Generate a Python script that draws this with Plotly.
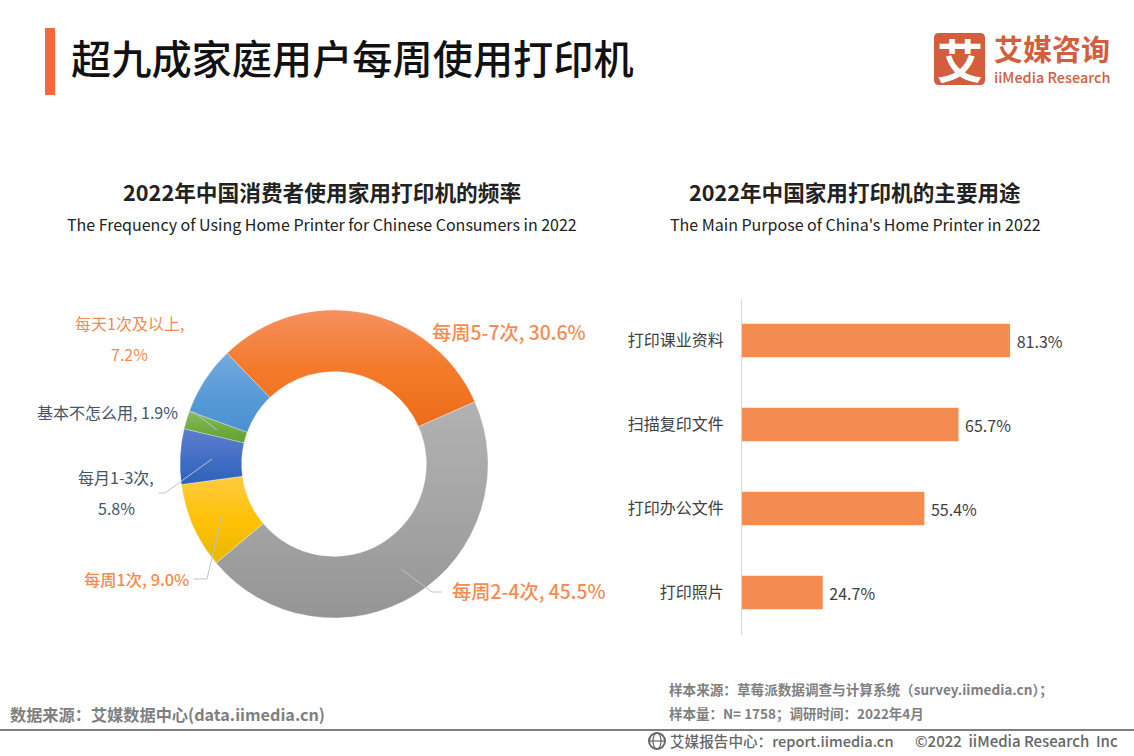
import plotly.graph_objects as go

W, H = 1134, 756
FONT = "Noto Sans CJK SC"
ORANGE = "#F58B50"
DARK = "#44546A"
GREY = "#7F7F7F"

freq_labels = ["每周5-7次", "每周2-4次", "每周1次", "每月1-3次", "基本不怎么用", "每天1次及以上"]
freq_values = [30.6, 45.5, 9.0, 5.8, 1.9, 7.2]
purpose_labels = ["打印课业资料", "扫描复印文件", "打印办公文件", "打印照片"]
purpose_values = [81.3, 65.7, 55.4, 24.7]
slice_colors = ["#F47A2B", "#A6A6A6", "#FFC30F", "#4470C6", "#72AD45", "#5A9BD8"]
gradient_stops = [
    ("#F59060", "#F47A2A", "#EB6C1A"), ("#B2B2B2", "#A5A5A5", "#959595"),
    ("#FFCB40", "#FFC105", "#E8B800"), ("#5F7DCC", "#4470C6", "#2F60BA"),
    ("#8ABD62", "#72AD45", "#62A130"), ("#74AADF", "#5A9BD8", "#4A90D3"),
]


def px(x):
    return x / W


def py(y):
    return 1 - y / H


def pct(v):
    return f"{v:.1f}%"


fig = go.Figure()

cx, cy, r = 334, 464, 154
fig.add_trace(go.Pie(
    labels=freq_labels, values=freq_values, sort=False, direction="clockwise",
    rotation=-44, hole=0.6, textinfo="none", showlegend=False,
    hoverinfo="label+value",
    marker=dict(colors=slice_colors, line=dict(color="rgba(255,255,255,0.6)", width=0.5)),
    domain=dict(x=[px(cx - r), px(cx + r)], y=[py(cy + r), py(cy - r)]),
))

fig.add_trace(go.Bar(
    x=purpose_values, y=purpose_labels, orientation="h",
    marker=dict(color="#F48B50", line=dict(width=0)),
    text=["\u00a0" + pct(v) for v in purpose_values], textposition="outside", cliponaxis=False,
    textfont=dict(family=FONT, size=16, color="#404040"),
    showlegend=False, hoverinfo="y+x",
    xaxis="x", yaxis="y",
))

shapes = []


def rect(x0, y0, x1, y1, color):
    shapes.append(dict(type="rect", xref="paper", yref="paper",
                       x0=px(x0), x1=px(x1), y0=py(y1), y1=py(y0),
                       fillcolor=color, line=dict(width=0), layer="above"))


def poly(points, color="#B7C3D3", width=1):
    d = "M " + " L ".join(f"{px(a):.5f},{py(b):.5f}" for a, b in points)
    shapes.append(dict(type="path", xref="paper", yref="paper", path=d,
                       line=dict(color=color, width=width), layer="above"))


rect(45, 28, 55, 95, "#F4693A")
rect(0, 729, W, 731, GREY)

# logo tile
x0, y0, x1, y1, c = 934, 33, 985, 85, 5
tile = (f"M {px(x0 + c)},{py(y0)} L {px(x1 - c)},{py(y0)} Q {px(x1)},{py(y0)} {px(x1)},{py(y0 + c)} "
        f"L {px(x1)},{py(y1 - c)} Q {px(x1)},{py(y1)} {px(x1 - c)},{py(y1)} L {px(x0 + c)},{py(y1)} "
        f"Q {px(x0)},{py(y1)} {px(x0)},{py(y1 - c)} L {px(x0)},{py(y0 + c)} Q {px(x0)},{py(y0)} {px(x0 + c)},{py(y0)} Z")
shapes.append(dict(type="path", xref="paper", yref="paper", path=tile,
                   fillcolor="#D25E3E", line=dict(width=0), layer="below"))

# leader lines
poly([(401, 569), (432, 592), (442, 592)])
poly([(222, 515), (207, 579), (194, 579)])
poly([(212, 459), (165, 493), (159, 493)])
poly([(217, 430), (194, 412), (190, 412)])

# footer globe
shapes.append(dict(type="circle", xref="paper", yref="paper",
                   x0=px(649), x1=px(665), y0=py(749), y1=py(733),
                   line=dict(color="#666666", width=2), layer="above"))
shapes.append(dict(type="circle", xref="paper", yref="paper",
                   x0=px(653), x1=px(661), y0=py(749), y1=py(733),
                   line=dict(color="#666666", width=1.2), layer="above"))
poly([(649, 741), (665, 741)], "#666666", 1.2)

ann = []


def text(s, x, y, size, color, anchor="left", weight=None):
    f = dict(family=FONT, size=size, color=color)
    if weight:
        f["weight"] = weight
    ann.append(dict(text=s, x=px(x), y=py(y), xref="paper", yref="paper", align=anchor if anchor != "center" else "center",
                    xanchor=anchor, yanchor="middle", showarrow=False, font=f))


text("超九成家庭用户每周使用打印机", 69, 57, 40.2, "#111111", weight=500)
text("2022年中国消费者使用家用打印机的频率", 322, 191, 21.7, "#222222", "center", 700)
text("The Frequency of Using Home Printer for Chinese Consumers in 2022", 322, 224, 16, "#222222", "center")
text("2022年中国家用打印机的主要用途", 855, 191, 21.6, "#222222", "center", 700)
text("The Main Purpose of China's Home Printer in 2022", 855, 224, 16, "#222222", "center")

text("艾", 959.5, 58, 46, "#FFFFFF", "center", 700)
text("<span style='font-size:29px;font-weight:700'>艾媒咨询</span><br>"
     "<span style='font-size:14.5px;font-weight:500'>iiMedia Research</span>",
     992, 57.5, 17, "#D25E3E")

by = dict(zip(freq_labels, freq_values))
text(f"每周5-7次, {pct(by['每周5-7次'])}", 430, 332, 19.3, ORANGE, weight=500)
text(f"每周2-4次, {pct(by['每周2-4次'])}", 450, 591, 19.3, ORANGE, weight=500)
text(f"每周1次, {pct(by['每周1次'])}", 82, 579, 16.3, ORANGE, weight=500)
text("每天1次及以上,", 129.5, 323, 16, ORANGE, "center")
text(pct(by["每天1次及以上"]), 129.5, 354, 16, ORANGE, "center")
text(f"基本不怎么用, {pct(by['基本不怎么用'])}", 35, 412, 16, DARK)
text("每月1-3次,", 116, 477, 16, DARK, "center")
text(pct(by["每月1-3次"]), 116, 508, 16, DARK, "center")

text("数据来源：艾媒数据中心(data.iimedia.cn)", 8, 714, 16.2, GREY, weight=700)
text("样本来源：草莓派数据调查与计算系统（survey.iimedia.cn）；", 667, 689, 13.6, GREY, weight=700)
text("样本量：N= 1758；调研时间：2022年4月", 667, 713, 13.5, GREY, weight=700)
text("艾媒报告中心：report.iimedia.cn", 668, 740, 14.6, "#666666", weight=500)
text("©2022  iiMedia Research  Inc", 913, 740, 15, "#666666", weight=500)

fig.update_layout(
    width=W, height=H, margin=dict(l=0, r=0, t=0, b=0, pad=0),
    paper_bgcolor="white", plot_bgcolor="white", autosize=False,
    bargap=0.6, showlegend=False, shapes=shapes, annotations=ann,
    xaxis=dict(domain=[px(741), px(741 + 331)], range=[0, 100], visible=False, fixedrange=True),
    yaxis=dict(domain=[py(634.5), py(298.5)], autorange="reversed", anchor="free", position=px(741),
               showline=True, linecolor="#D9D9D9", linewidth=1, ticks="", showgrid=False,
               zeroline=False, ticklabelstandoff=14, fixedrange=True,
               tickfont=dict(family=FONT, size=16, color="#404040")),
    font=dict(family=FONT),
)

stops_js = str([list(s) for s in gradient_stops])
post = """
document.body.style.margin = '0';
var gd = document.getElementById('{plot_id}');
var stops = %s;
var NS = 'http://www.w3.org/2000/svg';
var svg = gd.querySelector('svg.main-svg');
var defs = svg.querySelector('defs') || svg.insertBefore(document.createElementNS(NS, 'defs'), svg.firstChild);
gd.querySelectorAll('g.slice path.surface').forEach(function (p, i) {
  var g = document.createElementNS(NS, 'linearGradient');
  g.setAttribute('id', 'sliceGrad' + i);
  g.setAttribute('x1', '0'); g.setAttribute('y1', '0');
  g.setAttribute('x2', '0'); g.setAttribute('y2', '1');
  stops[i].forEach(function (c, k) {
    var s = document.createElementNS(NS, 'stop');
    s.setAttribute('offset', String(k / (stops[i].length - 1)));
    s.setAttribute('stop-color', c);
    g.appendChild(s);
  });
  defs.appendChild(g);
  p.style.fill = 'url(#sliceGrad' + i + ')';
});
""" % stops_js

fig.write_html("out.html", post_script=post, config=dict(displayModeBar=False))
